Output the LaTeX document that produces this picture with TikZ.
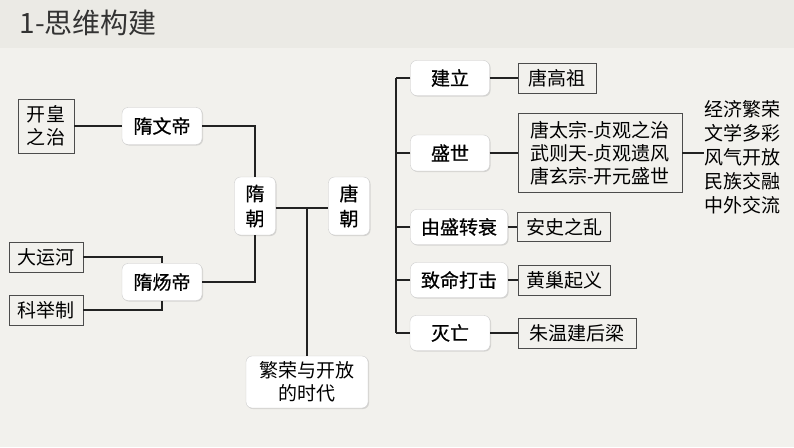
\documentclass[tikz,border=0pt]{standalone}
\usepackage{fontspec}
\newfontfamily\cjk{Noto Sans CJK SC}
\newfontfamily\cjkb{Noto Sans CJK SC}[FakeBold=0.6]
\usetikzlibrary{shadows}
\definecolor{bodybg}{HTML}{F2F1ED}
\definecolor{titlebg}{HTML}{EBEAE5}
\definecolor{ink}{HTML}{222222}

\begin{document}
\begin{tikzpicture}[x=1pt,y=-1pt,font=\cjk,
    rbox/.style={fill=white,draw=black!20,rounded corners=6pt,inner sep=0pt,
        align=center,font=\cjkb\fontsize{19}{25}\selectfont,
        drop shadow={opacity=0.25,shadow xshift=1pt,shadow yshift=-1pt}},
    sbox/.style={draw=black!70,inner sep=0pt,align=center,
        font=\cjk\fontsize{19}{23}\selectfont},
    conn/.style={draw=ink,line width=1.2pt}]

    \fill[bodybg] (0,0) rectangle (794,447);
    \fill[titlebg] (0,0) rectangle (794,48);
    \useasboundingbox (0,0) rectangle (794,447);
    \node[anchor=west,text=black!80,font=\cjk\fontsize{28}{30}\selectfont] (title) at (16,23) {1-思维构建};

    % left: Sui
    \node[sbox,minimum width=56pt,minimum height=54pt] (kh) at (46,126) {开皇\\之治};
    \node[rbox,minimum width=80pt,minimum height=37pt] (wd) at (162,126) {隋文帝};
    \node[rbox,minimum width=80pt,minimum height=37pt] (yd) at (162,282) {隋炀帝};
    \node[sbox,minimum width=74pt,minimum height=30pt] (dy) at (46,257) {大运河};
    \node[sbox,minimum width=74pt,minimum height=30pt] (kj) at (46,310) {科举制};
    \node[rbox,minimum width=41pt,minimum height=58pt] (sc) at (255,206) {隋\\朝};
    \node[rbox,minimum width=41pt,minimum height=58pt] (tc) at (349,206) {唐\\朝};
    \node[rbox,minimum width=122pt,minimum height=52pt,
        font=\cjk\fontsize{19}{23}\selectfont] (fr) at (307,382) {繁荣与开放\\的时代};
    \coordinate (jn) at (307,208);

    \draw[conn] (kh.east) -- (wd.west);
    \draw[conn] (wd.east) -| (sc.north);
    \draw[conn] (yd.east) -| (sc.south);
    \draw[conn] (dy.east) -| (yd.north);
    \draw[conn] (kj.east) -| (yd.south);
    \draw[conn] (sc.east |- jn) -- (tc.west |- jn);
    \draw[conn] (jn) -- (fr.north);

    % right: Tang
    \node[rbox,minimum width=79pt,minimum height=35pt] (jl) at (450,78) {建立};
    \node[sbox,minimum width=78pt,minimum height=30pt] (gz) at (557,78) {唐高祖};
    \node[rbox,minimum width=79pt,minimum height=36pt] (ss) at (450,153) {盛世};
    \node[sbox,minimum width=164pt,minimum height=79pt,align=left] (zg) at (600,153) {唐太宗-贞观之治\\武则天-贞观遗风\\唐玄宗-开元盛世};
    \node[rbox,minimum width=97pt,minimum height=35pt] (sz) at (459,227) {由盛转衰};
    \node[sbox,minimum width=93pt,minimum height=29pt] (as) at (564,227) {安史之乱};
    \node[rbox,minimum width=97pt,minimum height=35pt] (zm) at (459,280) {致命打击};
    \node[sbox,minimum width=92pt,minimum height=30pt] (hc) at (564,280) {黄巢起义};
    \node[rbox,minimum width=80pt,minimum height=35pt] (mw) at (450,333) {灭亡};
    \node[sbox,minimum width=118pt,minimum height=30pt] (zw) at (577,333) {朱温建后梁};
    \node[inner sep=0pt,align=left,font=\cjk\fontsize{19}{24}\selectfont] (ff) at (742,157)
        {经济繁荣\\文学多彩\\风气开放\\民族交融\\中外交流};
    \coordinate (sp) at (396,333);

    \draw[conn] (jl.west -| sp) -- (mw.west -| sp);
    \foreach \a/\b in {jl/gz,ss/zg,sz/as,zm/hc,mw/zw}{
        \draw[conn] (\a.west) -- (\a.west -| sp);
        \draw[conn] (\a.east) -- (\b.west);
    }
    \draw[conn] (zg.east) -- (zg.east -| ff.west);

\end{tikzpicture}
\end{document}
